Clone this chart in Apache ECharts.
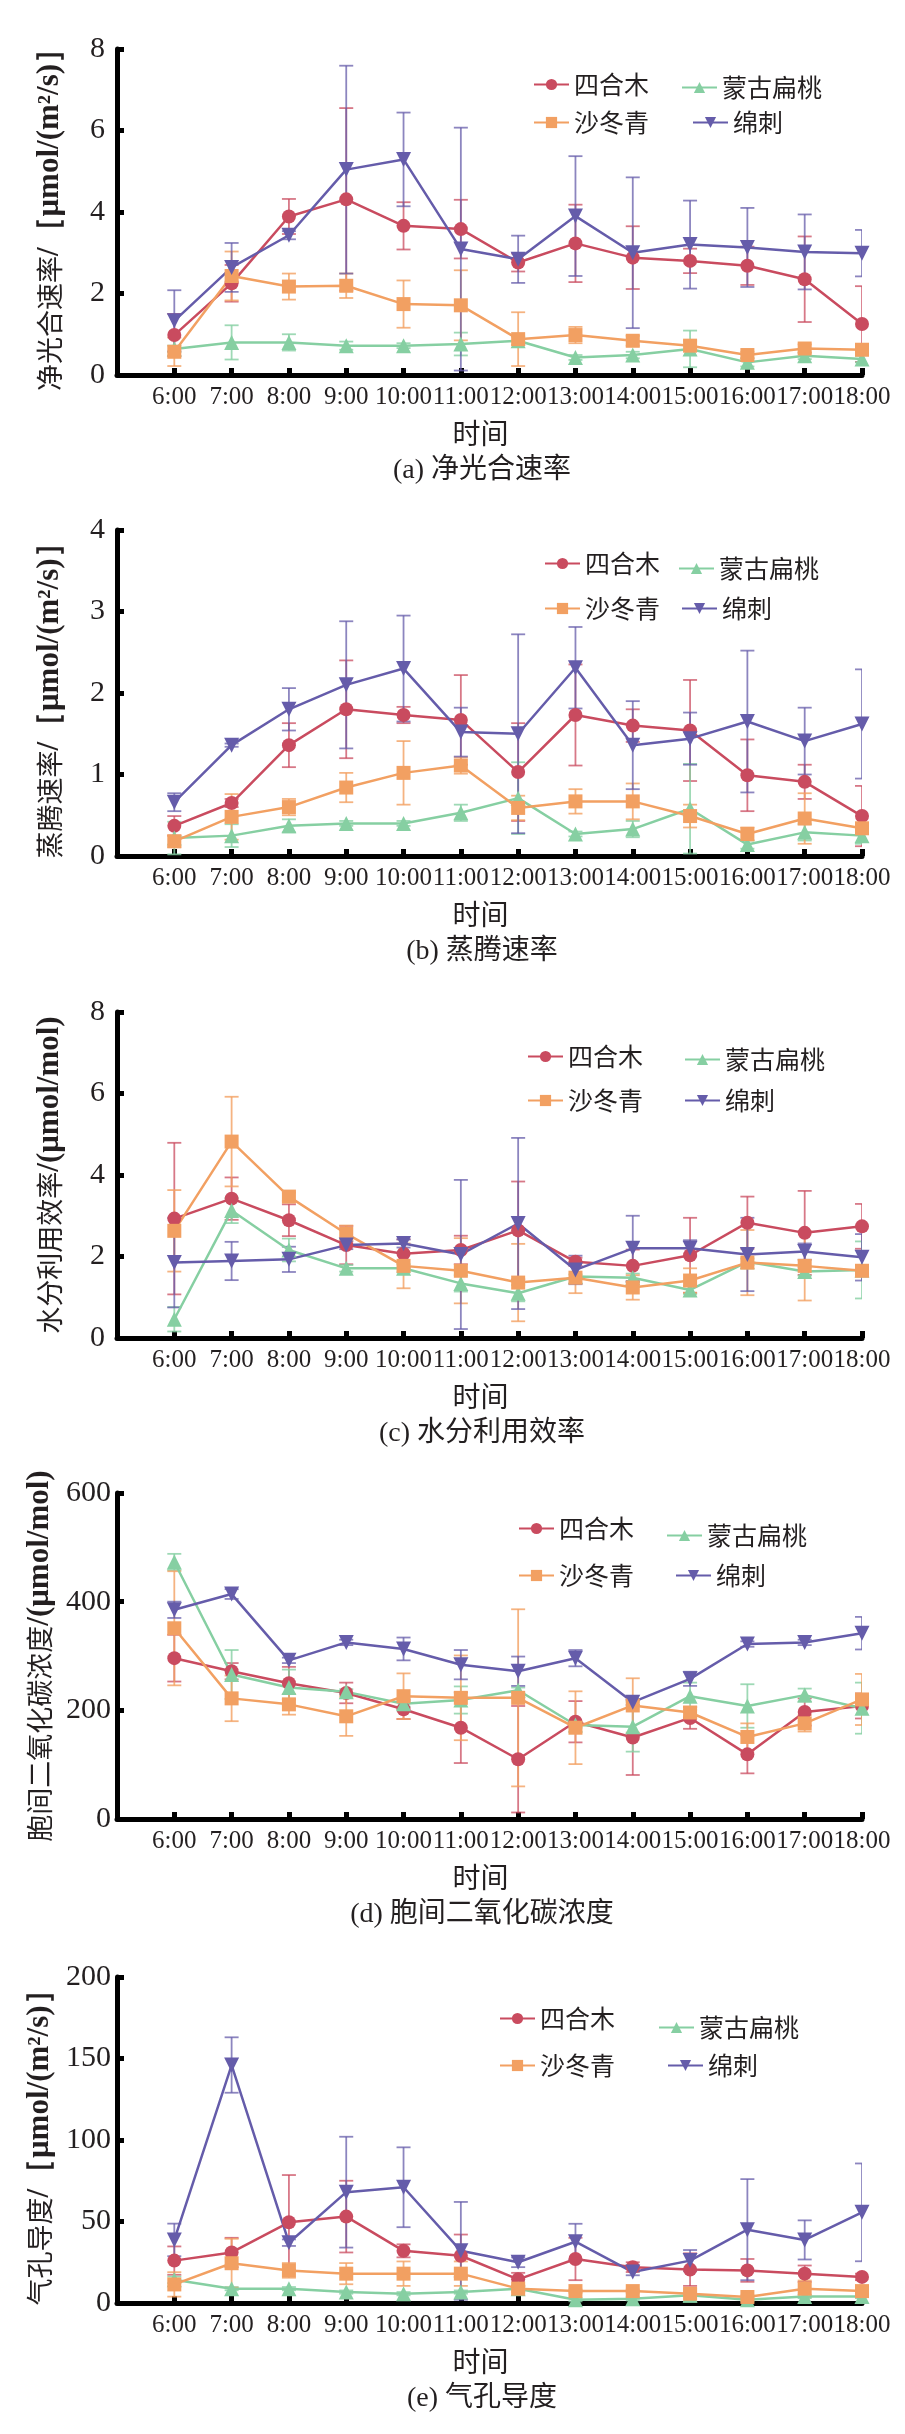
<!DOCTYPE html>
<html>
<head>
<meta charset="utf-8">
<script src="https://cdn.jsdelivr.net/npm/echarts@6/dist/echarts.min.js"></script>
<style>
  html, body { margin: 0; padding: 0; background: #fff; }
  #chart { width: 905px; height: 2434px; }
</style>
</head>
<body>
<div id="chart"></div>
<script>
// Diurnal photosynthesis traits of four desert shrubs, mean ± SD
const times = ['6:00', '7:00', '8:00', '9:00', '10:00', '11:00', '12:00', '13:00', '14:00', '15:00', '16:00', '17:00', '18:00'];
const species = ['四合木', '蒙古扁桃', '沙冬青', '绵刺'];

// (a) net photosynthetic rate
const pnSihemu = [0.98, 2.25, 3.89, 4.31, 3.66, 3.58, 2.76, 3.23, 2.88, 2.80, 2.68, 2.35, 1.25];
const pnSihemuSd = [0.52, 0.45, 0.43, 2.24, 0.58, 0.72, 0.22, 0.95, 0.77, 0.3, 0.47, 1.05, 0.93];
const pnBiantao = [0.64, 0.80, 0.80, 0.72, 0.72, 0.76, 0.84, 0.43, 0.49, 0.64, 0.31, 0.47, 0.39];
const pnBiantaoSd = [0.08, 0.42, 0.2, 0.1, 0.06, 0.28, 0.1, 0.06, 0.08, 0.45, 0.1, 0.08, 0.08];
const pnShadongqing = [0.57, 2.43, 2.17, 2.19, 1.74, 1.71, 0.88, 0.98, 0.84, 0.72, 0.49, 0.65, 0.62];
const pnShadongqingSd = [0.35, 0.6, 0.32, 0.3, 0.58, 0.86, 0.66, 0.2, 0.12, 0.12, 0.08, 0.1, 0.08];
const pnMianci = [1.33, 2.64, 3.43, 5.04, 5.29, 3.09, 2.84, 3.90, 3.00, 3.20, 3.13, 3.02, 2.99];
const pnMianciSd = [0.75, 0.6, 0.1, 2.55, 1.15, 2.98, 0.58, 1.47, 1.85, 1.08, 0.97, 0.92, 0.57];

// (b) transpiration rate
const trSihemu = [0.37, 0.65, 1.36, 1.80, 1.73, 1.67, 1.03, 1.73, 1.60, 1.54, 0.99, 0.91, 0.49];
const trSihemuSd = [0.12, 0.05, 0.27, 0.6, 0.1, 0.55, 0.6, 0.62, 0.2, 0.62, 0.44, 0.21, 0.37];
const trBiantao = [0.22, 0.25, 0.37, 0.40, 0.40, 0.53, 0.71, 0.27, 0.33, 0.58, 0.14, 0.29, 0.25];
const trBiantaoSd = [0.2, 0.14, 0.08, 0.03, 0.03, 0.1, 0.44, 0.03, 0.1, 0.55, 0.05, 0.1, 0.1];
const trShadongqing = [0.18, 0.48, 0.60, 0.84, 1.02, 1.11, 0.59, 0.67, 0.67, 0.49, 0.27, 0.46, 0.34];
const trShadongqingSd = [0.07, 0.28, 0.1, 0.18, 0.39, 0.1, 0.15, 0.15, 0.22, 0.14, 0.08, 0.31, 0.05];
const trMianci = [0.66, 1.36, 1.80, 2.10, 2.30, 1.52, 1.50, 2.31, 1.36, 1.44, 1.65, 1.41, 1.62];
const trMianciSd = [0.11, 0.02, 0.26, 0.78, 0.65, 0.3, 1.22, 0.5, 0.54, 0.32, 0.87, 0.41, 0.67];

// (c) water use efficiency
const wueSihemu = [2.93, 3.42, 2.89, 2.28, 2.07, 2.16, 2.64, 1.87, 1.77, 2.03, 2.83, 2.58, 2.74];
const wueSihemuSd = [1.86, 0.52, 0.39, 0.47, 0.35, 0.35, 1.2, 0.1, 0.4, 0.92, 0.64, 1.03, 0.55];
const wueBiantao = [0.46, 3.13, 2.16, 1.71, 1.71, 1.34, 1.10, 1.51, 1.48, 1.18, 1.87, 1.63, 1.67];
const wueBiantaoSd = [0.3, 0.31, 0.28, 0.08, 0.1, 0.2, 0.2, 0.05, 0.1, 0.1, 0.08, 0.1, 0.7];
const wueShadongqing = [2.63, 4.82, 3.47, 2.56, 1.77, 1.65, 1.36, 1.48, 1.24, 1.41, 1.85, 1.77, 1.65];
const wueShadongqingSd = [1.0, 1.1, 0.1, 0.2, 0.55, 0.8, 0.95, 0.38, 0.3, 0.3, 0.8, 0.85, 0.1];
const wueMianci = [1.85, 1.89, 1.93, 2.28, 2.32, 2.05, 2.81, 1.67, 2.20, 2.20, 2.05, 2.12, 1.98];
const wueMianciSd = [1.1, 0.47, 0.31, 0.1, 0.1, 1.83, 2.1, 0.35, 0.8, 0.2, 0.9, 0.2, 0.57];

// (d) intercellular CO2 concentration
const ciSihemu = [296, 272, 250, 232, 202, 168, 110, 179, 150, 186, 119, 197, 208];
const ciSihemuSd = [43, 15, 30, 19, 18, 65, 98, 38, 69, 20, 35, 25, 23];
const ciBiantao = [473, 266, 242, 234, 212, 219, 237, 173, 170, 226, 208, 228, 204];
const ciBiantaoSd = [15, 45, 33, 5, 5, 25, 5, 5, 46, 25, 40, 12, 47];
const ciShadongqing = [351, 222, 211, 189, 226, 223, 223, 168, 209, 196, 151, 176, 220];
const ciShadongqingSd = [105, 42, 19, 36, 42, 78, 163, 67, 50, 10, 25, 15, 47];
const ciMianci = [385, 414, 292, 325, 313, 284, 272, 296, 215, 258, 322, 325, 342];
const ciMianciSd = [15, 9, 5, 5, 21, 27, 27, 15, 5, 13, 5, 5, 30];

// (e) stomatal conductance
const gsSihemu = [26, 31, 49.5, 53, 32, 29, 14.5, 27, 22, 20.5, 20, 18, 16];
const gsSihemuSd = [8.7, 9, 29, 22, 4, 13, 4, 13, 3, 10, 7, 5, 2];
const gsBiantao = [14.2, 8.8, 8.8, 6.7, 5.7, 6.7, 8.8, 2, 2.6, 4.7, 2, 4, 4];
const gsBiantaoSd = [2, 1, 1, 1, 1, 1, 1, 1, 1, 4, 1, 1, 1];
const gsShadongqing = [11.4, 24.4, 20, 18, 18, 18, 8.8, 7.3, 7.3, 5.7, 3.7, 8.8, 7.3];
const gsShadongqingSd = [7.5, 15, 4.5, 6.5, 7.5, 7.5, 2, 1, 1, 1.5, 1, 5, 1];
const gsMianci = [38.7, 146, 37, 68, 71, 32, 25, 37.6, 19, 26, 45, 38.7, 55.6];
const gsMianciSd = [10, 17, 2, 34, 24.5, 30, 3, 11, 2, 6.5, 31, 12, 30];

const LAT = '"Liberation Serif", "Times New Roman", serif';
const CJK = '"Noto Sans CJK SC", sans-serif';
const MIX = '"Liberation Serif", "Noto Sans CJK SC", serif';
const INK = '#231f20';

const COLORS = ['#c94b5f', '#86cfa2', '#f2a062', '#655caa'];
const ERR_COLORS = ['rgba(201,75,95,0.75)', 'rgba(134,207,162,0.8)', 'rgba(242,160,98,0.8)', 'rgba(101,92,170,0.75)'];
const SYMBOLS = ['circle', 'triangle', 'rect', 'triangle'];
const ROTATE = [0, 0, 0, 180];
const SIZES = [14, 15, 14, 15];

const panels = [
    {
        title: '净光合速率', yName: ['净光合速率', '/［μmol/(m²/s)］'], max: 8, interval: 2,
        means: [pnSihemu, pnBiantao, pnShadongqing, pnMianci],
        sds: [pnSihemuSd, pnBiantaoSd, pnShadongqingSd, pnMianciSd],
        top: 49, labelMargin: 12,
        legend: [[528, 79], [676, 82], [528, 117], [687, 117]]
    },
    {
        title: '蒸腾速率', yName: ['蒸腾速率', '/［μmol/(m²/s)］'], max: 4, interval: 1,
        means: [trSihemu, trBiantao, trShadongqing, trMianci],
        sds: [trSihemuSd, trBiantaoSd, trShadongqingSd, trMianciSd],
        top: 530, labelMargin: 12,
        legend: [[539, 558], [673, 563], [539, 603], [676, 603]]
    },
    {
        title: '水分利用效率', yName: ['水分利用效率', '/(μmol/mol)'], max: 8, interval: 2,
        means: [wueSihemu, wueBiantao, wueShadongqing, wueMianci],
        sds: [wueSihemuSd, wueBiantaoSd, wueShadongqingSd, wueMianciSd],
        top: 1012, labelMargin: 12,
        legend: [[522, 1051], [679, 1054], [522, 1095], [679, 1095]]
    },
    {
        title: '胞间二氧化碳浓度', yName: ['胞间二氧化碳浓度', '/(μmol/mol)'], max: 600, interval: 200,
        means: [ciSihemu, ciBiantao, ciShadongqing, ciMianci],
        sds: [ciSihemuSd, ciBiantaoSd, ciShadongqingSd, ciMianciSd],
        top: 1493, labelMargin: 6,
        legend: [[513, 1523], [661, 1530], [513, 1570], [670, 1570]]
    },
    {
        title: '气孔导度', yName: ['气孔导度', '/［μmol/(m²/s)］'], max: 200, interval: 50,
        means: [gsSihemu, gsBiantao, gsShadongqing, gsMianci],
        sds: [gsSihemuSd, gsBiantaoSd, gsShadongqingSd, gsMianciSd],
        top: 1977, labelMargin: 6,
        legend: [[494, 2013], [653, 2022], [494, 2060], [662, 2060]]
    }
];

const PLOT_H = 326;
const LETTERS = ['a', 'b', 'c', 'd', 'e'];
// empty slot before 6:00 so the y axis sits one step left of the first point
const cats = [''].concat(times);

function renderError(params, api) {
    const x = api.value(0);
    const v = api.value(1);
    const e = api.value(2);
    const hi = api.coord([x, v + e]);
    const lo = api.coord([x, v - e]);
    const half = 7;
    const style = { stroke: api.visual('color'), lineWidth: 1.8 };
    return {
        type: 'group',
        children: [
            { type: 'line', shape: { x1: hi[0], y1: hi[1], x2: lo[0], y2: lo[1] }, style },
            { type: 'line', shape: { x1: hi[0] - half, y1: hi[1], x2: hi[0] + half, y2: hi[1] }, style },
            { type: 'line', shape: { x1: lo[0] - half, y1: lo[1], x2: lo[0] + half, y2: lo[1] }, style }
        ]
    };
}

const grid = [];
const xAxis = [];
const yAxis = [];
const series = [];
const legend = [];
const graphic = [];

panels.forEach((p, pi) => {
    grid.push({ left: 117, right: 43, top: p.top, height: PLOT_H });

    xAxis.push({
        type: 'category',
        gridIndex: pi,
        data: cats,
        boundaryGap: false,
        name: '时间',
        nameLocation: 'middle',
        nameGap: 44,
        nameTextStyle: { fontFamily: CJK, fontSize: 28, color: INK, padding: [0, 18, 0, 0] },
        axisLine: { lineStyle: { color: '#000', width: 5 } },
        axisTick: { inside: true, length: 7, interval: 0, lineStyle: { color: '#000', width: 5 } },
        axisLabel: {
            interval: 0, hideOverlap: false, margin: 10,
            fontFamily: LAT, fontSize: 25, color: INK
        },
        splitLine: { show: false }
    });

    yAxis.push({
        type: 'value',
        gridIndex: pi,
        min: 0,
        max: p.max,
        interval: p.interval,
        name: '{c|' + p.yName[0] + '}{l|' + p.yName[1] + '}',
        nameLocation: 'middle',
        nameGap: 52,
        nameRotate: 90,
        nameTextStyle: {
            color: INK,
            rich: {
                c: { fontFamily: CJK, fontSize: 27, color: INK },
                l: { fontFamily: LAT, fontSize: 31, fontWeight: 'bold', color: INK }
            }
        },
        axisLine: { show: true, lineStyle: { color: '#000', width: 5 } },
        axisTick: { show: true, inside: true, length: 7, lineStyle: { color: '#000', width: 5 } },
        axisLabel: { margin: p.labelMargin, fontFamily: LAT, fontSize: 30, color: INK },
        splitLine: { show: false }
    });

    species.forEach((name, si) => {
        series.push({
            name,
            type: 'line',
            xAxisIndex: pi,
            yAxisIndex: pi,
            data: times.map((t, i) => [t, p.means[si][i]]),
            symbol: SYMBOLS[si],
            symbolRotate: ROTATE[si],
            symbolSize: SIZES[si],
            color: COLORS[si],
            lineStyle: { width: 2.5, color: COLORS[si] },
            itemStyle: { color: COLORS[si] },
            z: 3,
            animation: false
        });
        series.push({
            type: 'custom',
            xAxisIndex: pi,
            yAxisIndex: pi,
            data: times.map((t, i) => [t, p.means[si][i], p.sds[si][i]]),
            encode: { x: 0, y: 1 },
            renderItem: renderError,
            itemStyle: { color: ERR_COLORS[si] },
            clip: true,
            silent: true,
            z: 2,
            animation: false
        });
        legend.push({
            data: [name],
            left: p.legend[si][0],
            top: p.legend[si][1] - 12,
            itemWidth: 35,
            itemHeight: 14,
            itemGap: 0,
            textStyle: { fontFamily: CJK, fontSize: 25, color: INK, lineHeight: 24 },
            selectedMode: false
        });
    });

    // panel caption below the axis title
    graphic.push({
        type: 'text',
        x: 482,
        y: p.top + PLOT_H + 82,
        style: {
            text: '(' + LETTERS[pi] + ') ' + p.title,
            font: '28px ' + MIX,
            fill: INK,
            textAlign: 'center',
            textVerticalAlign: 'top'
        }
    });
});

const chart = echarts.init(document.getElementById('chart'), null, { renderer: 'canvas' });
chart.setOption({
    backgroundColor: '#fff',
    animation: false,
    grid,
    xAxis,
    yAxis,
    legend,
    graphic,
    series
});
</script>
</body>
</html>
